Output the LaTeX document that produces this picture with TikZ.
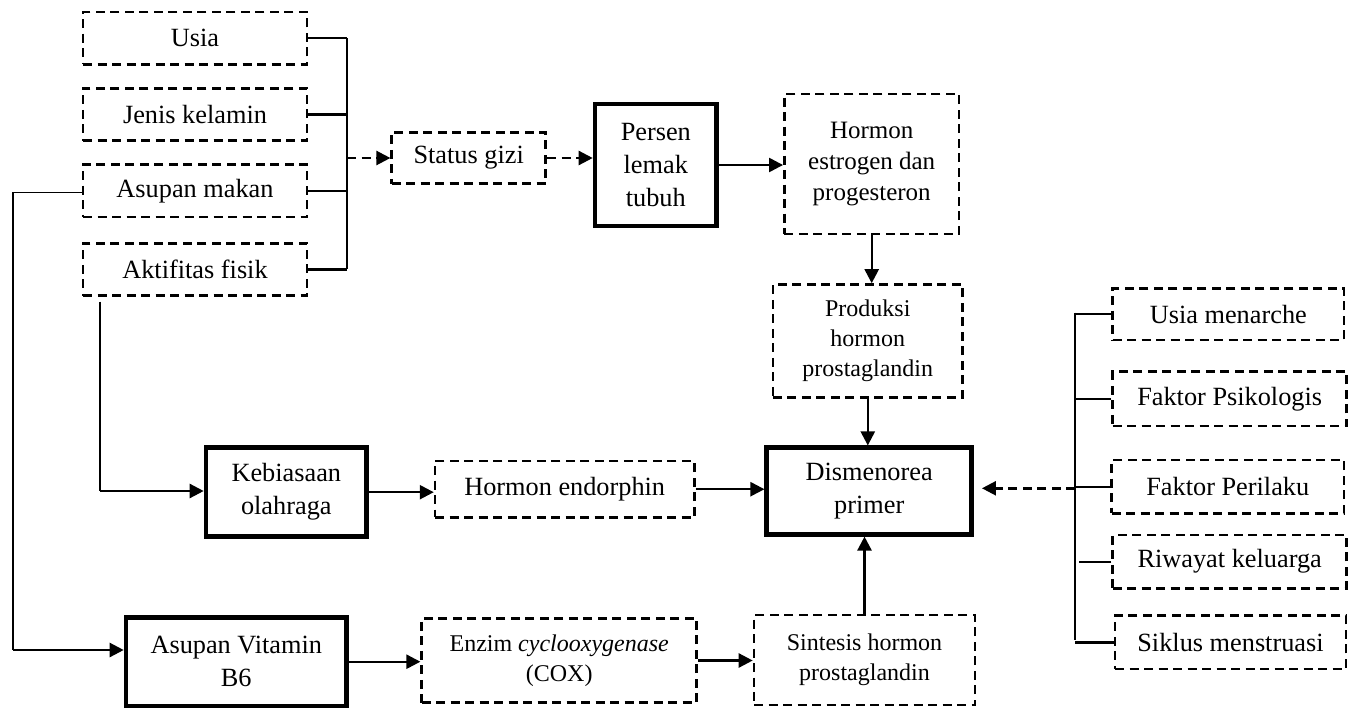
\documentclass[tikz,border=0pt]{standalone}
\usepackage{fontspec}
\setmainfont{Liberation Serif}
\usetikzlibrary{arrows.meta,calc}
\tikzset{
  big/.style={font=\fontsize{26.3}{33}\selectfont},
  small/.style={font=\fontsize{24}{30}\selectfont},
  mid/.style={font=\fontsize{25}{31}\selectfont},
  dbox/.style={draw, line width=2.6pt, dash pattern=on 9pt off 5.5pt, align=center, inner sep=0pt, rectangle},
  tbox/.style={draw, line width=4.5pt, align=center, inner sep=0pt, rectangle},
  conn/.style={line width=2.4pt},
  thinline/.style={line width=1.3pt},
  arr/.style={line width=2.4pt, -{Triangle[length=14pt,width=14pt]}},
  darr/.style={line width=2.4pt, dash pattern=on 9pt off 5.5pt, -{Triangle[length=14pt,width=14pt]}},
}
\begin{document}
\begin{tikzpicture}[x=1pt,y=-1pt]
\useasboundingbox (0,0) rectangle (1357,709);
% left column
\node[dbox,big,minimum width=224pt,minimum height=52.3pt] (usia) at (195,38.2) {Usia};
\node[dbox,big,minimum width=224pt,minimum height=52.4pt] (jenis) at (195,114.5) {Jenis kelamin};
\node[dbox,big,minimum width=224pt,minimum height=52.7pt] (makan) at (195,190.7) {Asupan makan};
\node[dbox,big,minimum width=224pt,minimum height=52.4pt] (aktif) at (195,269.5) {Aktifitas fisik};
% top row
\node[dbox,big,minimum width=154pt,minimum height=51.4pt] (gizi) at (468.7,158) {Status gizi};
\node[tbox,big,minimum width=121.7pt,minimum height=122pt] (persen) at (655.8,165) {Persen\\lemak\\tubuh};
\node[dbox,mid,minimum width=174.7pt,minimum height=140pt] (estro) at (871.7,164) {Hormon\\estrogen dan\\progesteron};
\node[dbox,small,minimum width=189.7pt,minimum height=112.8pt] (prod) at (867.8,340.9) {Produksi\\hormon\\prostaglandin};
\node[tbox,big,minimum width=205pt,minimum height=86.6pt] (dism) at (869.2,491) {Dismenorea\\primer};
\node[dbox,small,minimum width=221pt,minimum height=90pt] (sint) at (864.5,660) {Sintesis hormon\\prostaglandin};
% middle and bottom rows
\node[tbox,big,minimum width=160.7pt,minimum height=89pt] (kebi) at (286.3,492.2) {Kebiasaan\\olahraga};
\node[dbox,big,minimum width=259.3pt,minimum height=56.3pt] (endor) at (564.7,489.2) {Hormon endorphin};
\node[tbox,big,minimum width=220.7pt,minimum height=88.7pt] (vit) at (236.3,661.7) {Asupan Vitamin\\B6};
\node[dbox,small,minimum width=275pt,minimum height=84.4pt] (enzim) at (559.2,660.5) {Enzim \textit{cyclooxygenase}\\(COX)};
% right column
\node[dbox,big,minimum width=231.3pt,minimum height=51.7pt] (umen) at (1228.3,314.2) {Usia menarche};
\node[dbox,big,minimum width=234pt,minimum height=54.3pt] (psik) at (1229.7,398.8) {Faktor Psikologis};
\node[dbox,big,minimum width=232.3pt,minimum height=53.3pt] (peri) at (1227.8,486.7) {Faktor Perilaku};
\node[dbox,big,minimum width=234pt,minimum height=53.3pt] (riwa) at (1229.7,561.7) {Riwayat keluarga};
\node[dbox,big,minimum width=231pt,minimum height=53.3pt] (sikl) at (1230.5,642.3) {Siklus menstruasi};

% left bracket
\coordinate (bT) at (347,38.3);
\coordinate (bB) at (347,269.3);
\coordinate (bM) at (347,158);
\draw[conn] (bT) -- (bB);
\foreach \n in {usia,jenis,makan,aktif} \draw[conn] (\n.east) -- (\n.east -| bT);
\draw[darr] (bM) -- (gizi.west);
\draw[darr] (gizi.east) -- (gizi.east -| persen.west);
\draw[arr] (persen.east) -- (persen.east -| estro.west);
\draw[arr] (estro.south) -- (estro.south |- prod.north);
\draw[arr] (prod.south) -- (prod.south |- dism.north);
\draw[arr] (sint.north) -- (sint.north |- dism.south);
\draw[arr] (endor.east) -- (endor.east -| dism.west);
\draw[arr] (kebi.east) -- (kebi.east -| endor.west);
\draw[arr] (enzim.east) -- (enzim.east -| sint.west);
\draw[arr] (vit.east) -- (vit.east -| enzim.west);

% aktifitas -> kebiasaan
\coordinate (a1) at (100,301.7);
\coordinate (a2) at (100,491);
\draw[thinline] (a1) -- (a2);
\draw[arr] (a2) -- (a2 -| kebi.west);

% asupan makan -> vitamin
\coordinate (m1) at (13,192.3);
\coordinate (m2) at (13,650);
\draw[thinline] (makan.west |- m1) -- (m1) -- (m2);
\draw[arr] (m2) -- (m2 -| vit.west);

% right bracket
\coordinate (rT) at (1075,312.7);
\coordinate (rB) at (1075,640);
\coordinate (rM) at (1075,488.3);
\draw[conn] (rT) -- (rB);
\foreach \n in {umen,psik,peri,sikl} \draw[conn] (\n.west) -- (\n.west -| rT);
\draw[conn] (riwa.west) -- ([xshift=4pt]riwa.west -| rT);
\draw[darr, shorten >=8pt] (rM) -- (rM -| dism.east);
\end{tikzpicture}
\end{document}
